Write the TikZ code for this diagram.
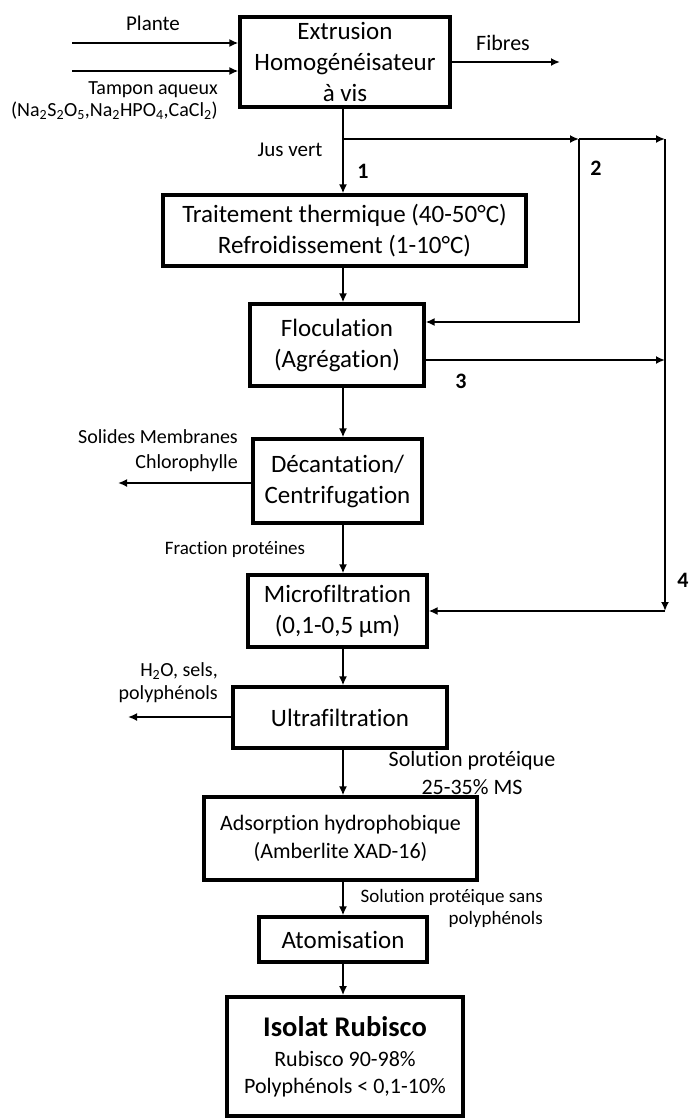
\documentclass[tikz,border=0pt]{standalone}
\usepackage{fontspec}
\setmainfont{Carlito}[Ligatures={NoCommon,NoContextual}]
\usetikzlibrary{arrows.meta,calc}
\begin{document}
\begin{tikzpicture}[x=1pt,y=-1pt,
  box/.style={draw,line width=3.2pt,inner sep=0pt,align=center,font=\fontsize{25}{31}\selectfont},
  arr/.style={line width=2pt,-{Latex[length=9pt,width=8pt]}},
  lbl/.style={inner sep=0pt,font=\fontsize{20}{24}\selectfont},
  num/.style={inner sep=0pt,font=\bfseries\fontsize{22}{26}\selectfont}]
\useasboundingbox (0,0) rectangle (689,1119);
\fill[white] (0,0) rectangle (689,1119);

% process boxes
\node[box,minimum width=210pt,minimum height=90pt] (ext) at (345,62) {Extrusion\\Homogénéisateur\\à vis};
\node[box,minimum width=363pt,minimum height=71pt] (trt) at (344.5,230.5) {Traitement thermique (40-50°C)\\Refroidissement (1-10°C)};
\node[box,minimum width=174pt,minimum height=82pt] (floc) at (337,345) {Floculation\\(Agrégation)};
\node[box,minimum width=169pt,minimum height=84pt] (dec) at (337.5,481) {Décantation/\\Centrifugation};
\node[box,minimum width=179pt,minimum height=72pt] (mf) at (337.5,611) {Microfiltration\\(0,1-0,5 µm)};
\node[box,minimum width=214pt,minimum height=61pt] (uf) at (340,717.5) {Ultrafiltration};
\node[box,minimum width=273pt,minimum height=83pt,font=\fontsize{22}{28}\selectfont] (ads) at (340.5,838.5) {Adsorption hydrophobique\\(Amberlite XAD-16)};
\node[box,minimum width=168pt,minimum height=45pt] (atom) at (343,939.5) {Atomisation};
\node[box,line width=3.6pt,minimum width=236pt,minimum height=119pt,font=\fontsize{22}{27}\selectfont] (iso) at (345,1056.5)
  {{\bfseries\fontsize{28.5}{34}\selectfont Isolat Rubisco}\\[3pt]Rubisco 90-98\%\\Polyphénols < 0,1-10\%};

% main column
\coordinate (col) at (343,0);
\draw[arr] (ext.south -| col) -- (trt.north -| col);
\draw[arr] (trt.south -| col) -- (floc.north -| col);
\draw[arr] (floc.south -| col) -- (dec.north -| col);
\draw[arr] (dec.south -| col) -- (mf.north -| col);
\draw[arr] (mf.south -| col) -- (uf.north -| col);
\draw[arr] (uf.south -| col) -- (ads.north -| col);
\draw[arr] (ads.south -| col) -- (atom.north -| col);
\draw[arr] (atom.south -| col) -- (iso.north -| col);

% recycle lines
\coordinate (j) at (343,139);
\coordinate (b2) at (579,139);
\coordinate (b4) at (665,139);
\coordinate (c2) at (579,322);
\coordinate (c4) at (665,611);
\coordinate (e3) at (665,360);
\draw[arr] (j) -- (b2);
\draw[arr] (b2) -- (b4);
\draw[arr] (b2) -- (c2) -- (c2 -| floc.east);
\draw[arr] (e3 -| floc.east) -- (e3);
\draw[arr] (b4) -- (c4);
\draw[arr] (c4) -- (c4 -| mf.east);

% side inputs / outputs
\coordinate (p0) at (72,43);
\coordinate (t0) at (72,71);
\coordinate (fb) at (560,62);
\coordinate (s0) at (118,483);
\coordinate (h0) at (128,717);
\draw[arr] (p0) -- (p0 -| ext.west);
\draw[arr] (t0) -- (t0 -| ext.west);
\draw[arr] (fb -| ext.east) -- (fb);
\draw[arr] (s0 -| dec.west) -- (s0);
\draw[arr] (h0 -| uf.west) -- (h0);

% labels
\node[lbl,font=\fontsize{21}{25}\selectfont] (lplante) at (153,23) {Plante};
\node[lbl,align=right,anchor=east,font=\fontsize{20}{22}\selectfont] (ltampon) at (218,101)
  {Tampon aqueux\\(Na\textsubscript{2}S\textsubscript{2}O\textsubscript{5},Na\textsubscript{2}HPO\textsubscript{4},CaCl\textsubscript{2})};
\node[lbl,font=\fontsize{22}{26}\selectfont] (lfib) at (503,43) {Fibres};
\node[lbl,font=\fontsize{21}{25}\selectfont] (ljus) at (290,150) {Jus vert};
\node[num] (n1) at (363,171) {1};
\node[num] (n2) at (596,168) {2};
\node[num] (n3) at (461,381) {3};
\node[num] (n4) at (683,580) {4};
\node[lbl,align=right,anchor=east,font=\fontsize{20}{25}\selectfont] (lsol) at (238,450.5) {Solides Membranes\\Chlorophylle};
\node[lbl,font=\fontsize{19}{23}\selectfont] (lfrac) at (235,549) {Fraction protéines};
\node[lbl,align=right,anchor=east,font=\fontsize{20}{23}\selectfont] (lh2o) at (218,682.5) {H\textsubscript{2}O, sels,\\polyphénols};
\node[lbl,align=center,font=\fontsize{22}{28}\selectfont] (lsp) at (472,773) {Solution protéique\\25-35\% MS};
\node[lbl,align=right,anchor=east,font=\fontsize{19}{22}\selectfont] (lsps) at (543,908) {Solution protéique sans\\polyphénols};
\end{tikzpicture}
\end{document}
